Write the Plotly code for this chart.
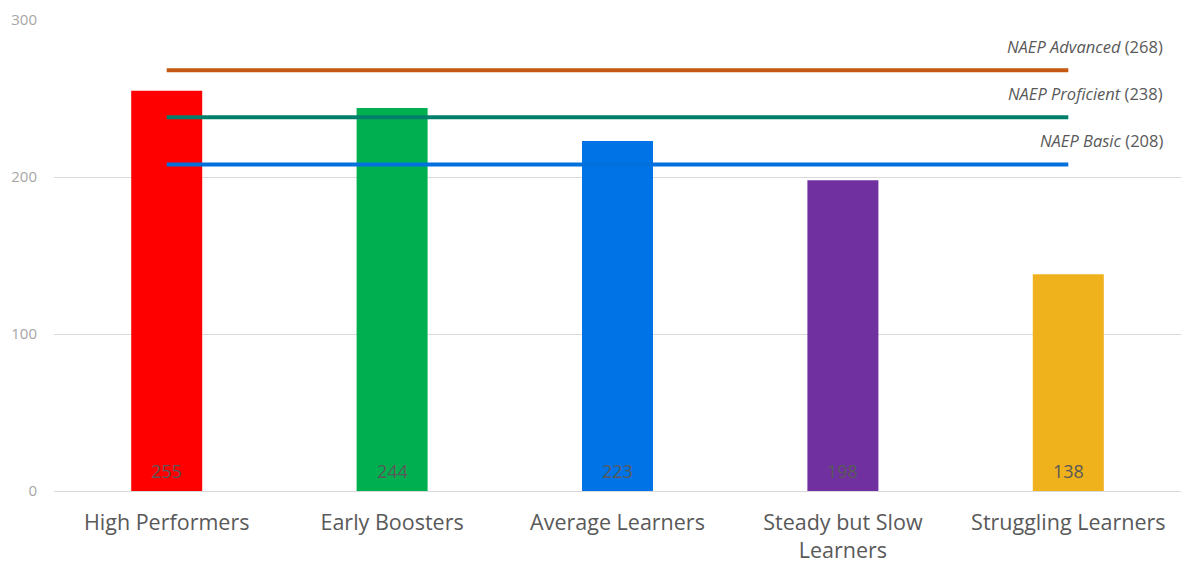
import plotly.graph_objects as go

categories = ["High Performers", "Early Boosters", "Average Learners", "Steady but Slow Learners", "Struggling Learners"]
tick_labels = ["High Performers", "Early Boosters", "Average Learners", "Steady but Slow<br>Learners", "Struggling Learners"]
scores = [255, 244, 223, 198, 138]
bar_colors = ["#FF0000", "#00B050", "#0073E6", "#7030A0", "#F0B21C"]

benchmark_names = ["NAEP Advanced", "NAEP Proficient", "NAEP Basic"]
benchmark_values = [268, 238, 208]
benchmark_colors = ["#C65911", "#00806A", "#0070DD"]

xpos = list(range(len(categories)))

fig = go.Figure()
fig.add_trace(go.Bar(
    x=xpos, y=scores, marker=dict(color=bar_colors, line=dict(width=0)),
    width=0.315, hoverinfo="skip", showlegend=False,
))

for x, v in zip(xpos, scores):
    fig.add_annotation(
        x=x, y=0, yshift=20, xanchor="center", yanchor="middle", showarrow=False,
        text=str(v), font=dict(color="#595959", size=18, family="Open Sans"),
    )

for name, val, col in zip(benchmark_names, benchmark_values, benchmark_colors):
    fig.add_trace(go.Scatter(
        x=[xpos[0], xpos[-1]], y=[val, val], mode="lines",
        line=dict(color=col, width=4), hoverinfo="skip", showlegend=False,
    ))
    fig.add_annotation(
        x=0.986, xref="paper", y=val, yref="y", yshift=24,
        xanchor="right", yanchor="middle", showarrow=False,
        text=f"<i>{name}</i> ({val})",
        font=dict(color="#595959", size=16.5, family="Open Sans"),
    )

fig.update_layout(
    width=1203, height=563,
    margin=dict(l=46, r=30, t=12, b=80),
    paper_bgcolor="white", plot_bgcolor="white",
    font=dict(family="Open Sans", color="#595959"),
    xaxis=dict(
        tickmode="array", tickvals=xpos, ticktext=tick_labels,
        range=[-0.5, len(categories) - 0.5], automargin=False,
        tickfont=dict(size=21.5, color="#595959"),
        showgrid=False, zeroline=False, showline=False,
        ticks="outside", ticklen=12, tickcolor="rgba(0,0,0,0)",
    ),
    yaxis=dict(
        range=[0, 300], tickvals=[0, 100, 200, 300], automargin=False,
        tickfont=dict(size=15, color="#A6A6A6"),
        showgrid=True, gridcolor="#D9D9D9", gridwidth=1,
        zeroline=True, zerolinecolor="#D9D9D9", zerolinewidth=1,
        ticks="outside", ticklen=13, tickcolor="rgba(0,0,0,0)",
    ),
)

fig.write_html("out.html")
